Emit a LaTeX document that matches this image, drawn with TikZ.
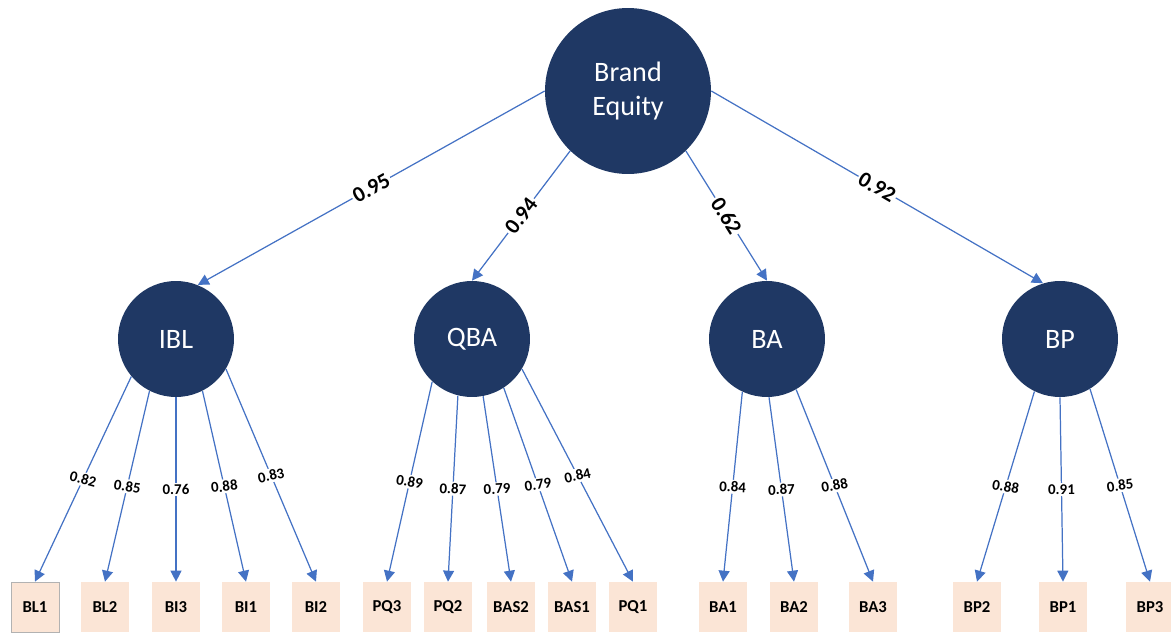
\documentclass[tikz,border=0pt]{standalone}
\usepackage{fontspec}
\setmainfont{Carlito}
\usetikzlibrary{arrows.meta}
\definecolor{navy}{HTML}{1F3864}
\definecolor{linkblue}{HTML}{4472C4}
\definecolor{peach}{HTML}{FBE5D6}
\begin{document}
\begin{tikzpicture}[x=0.02cm, y=-0.02cm,
	construct/.style={circle, fill=navy, text=white, inner sep=0pt, minimum size=2.32cm, font=\fontsize{16}{19.5}\selectfont},
	item/.style={fill=peach, text=black, minimum width=0.96cm, minimum height=1cm, inner sep=0pt, font=\bfseries\fontsize{9.5}{10}\selectfont},
	link/.style={linkblue, line width=0.7pt, -{Triangle[length=2.2mm,width=2.2mm]}},
	bigw/.style={fill=white, text=black, inner sep=1pt, sloped, font=\bfseries\fontsize{12.5}{14}\selectfont},
	smallw/.style={fill=white, text=black, inner sep=1pt, font=\bfseries\fontsize{8.5}{10}\selectfont}]
		\useasboundingbox (0,0) rectangle (1171,633);
		% constructs
		\node[construct, minimum size=3.32cm, align=center] (be) at (628,91) {Brand\\Equity};
		\node[construct] (ibl) at (176,339) {IBL};
		\node[construct] (qba) at (472,339) {QBA};
		\node[construct] (ba) at (767,339) {BA};
		\node[construct] (bp) at (1060,339) {BP};
		% items
		\foreach \n/\t/\x in {bl2/BL2/105, bi3/BI3/176, bi1/BI1/246, bi2/BI2/316,
			pq3/PQ3/387, pq2/PQ2/448, bas2/BAS2/511, bas1/BAS1/572, pq1/PQ1/633,
			ba1/BA1/723, ba2/BA2/794, ba3/BA3/873, bp2/BP2/977, bp1/BP1/1063, bp3/BP3/1150}
			\node[item] (\n) at (\x,607) {\t};
		\node[item, draw=gray!60, line width=0.4pt] (bl1) at (35,607) {BL1};
		% second order loadings
		\draw[link] (be.west) -- node[bigw] {0.95} (ibl.68);
		\draw[link] (be.-134) -- node[bigw] {0.94} (qba.north);
		\draw[link] (be.-46) -- node[bigw] {0.62} (ba.north);
		\draw[link] (be.east) -- node[bigw] {0.92} (bp.107);
		% first order loadings
		\foreach \s/\a/\t/\w/\r in {ibl/220/bl1/0.82/-15, ibl/243/bl2/0.85/-8, ibl/270/bi3/0.76/0,
			ibl/297/bi1/0.88/6, ibl/329/bi2/0.83/12,
			qba/227/pq3/0.89/-10, qba/256/pq2/0.87/-3, qba/281/bas2/0.79/3,
			qba/303/bas1/0.79/8, qba/329/pq1/0.84/12,
			ba/245/ba1/0.84/-3, ba/272/ba2/0.87/2, ba/300/ba3/0.88/10,
			bp/244/bp2/0.88/-10, bp/270/bp1/0.91/0, bp/301/bp3/0.85/8}
			\draw[link] (\s.\a) -- node[smallw, rotate=\r] {\w} (\t.north);
	\end{tikzpicture}
\end{document}
